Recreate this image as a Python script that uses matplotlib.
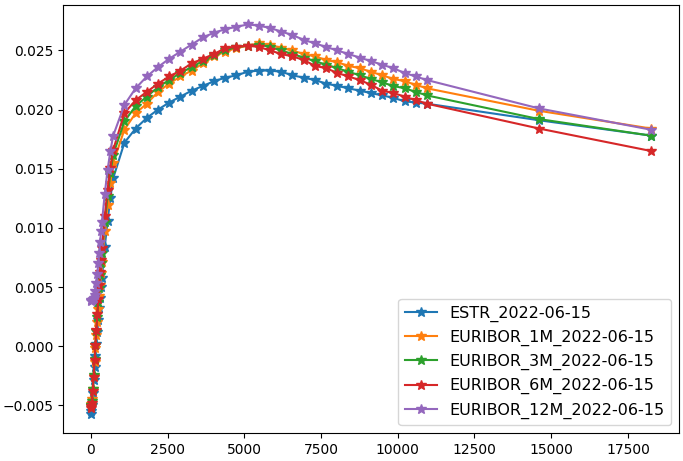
import numpy as np
import matplotlib
matplotlib.use("Agg")
import matplotlib.pyplot as plt

# tenors in days: short end (1W .. 2Y) then yearly 3Y..30Y, 40Y, 50Y
short_days = [7, 14, 30, 61, 91, 122, 152, 182, 213, 243, 274, 304, 335, 365, 456, 547, 638, 730]
year_days = [365 * y for y in list(range(3, 31)) + [40, 50]]
days = short_days + year_days

labels = ["ESTR_2022-06-15", "EURIBOR_1M_2022-06-15", "EURIBOR_3M_2022-06-15",
          "EURIBOR_6M_2022-06-15", "EURIBOR_12M_2022-06-15"]

estr = [-0.0057, -0.0055, -0.0050, -0.0040, -0.0029, -0.0018, -0.0008, 0.0002, 0.0012,
        0.0022, 0.0032, 0.0041, 0.0050, 0.0058, 0.0084, 0.0106, 0.0125, 0.0142,
        0.0172, 0.0184, 0.0193, 0.0200, 0.0206, 0.0211, 0.0216, 0.0220, 0.0224, 0.0227,
        0.0229, 0.0232, 0.0233, 0.0233, 0.0232, 0.0229, 0.0227, 0.0225, 0.0222, 0.0220,
        0.0218, 0.0216, 0.0214, 0.0212, 0.0210, 0.0207, 0.0206, 0.0205, 0.0191, 0.0178]

euribor_1m = [-0.0050, -0.0049, -0.0045, -0.0036, -0.0025, -0.0013, -0.0002, 0.0009, 0.0020,
              0.0031, 0.0042, 0.0052, 0.0062, 0.0071, 0.0097, 0.0119, 0.0138, 0.0155,
              0.0183, 0.0197, 0.0205, 0.0215, 0.0222, 0.0228, 0.0233, 0.0239, 0.0245, 0.0249,
              0.0252, 0.0254, 0.0256, 0.0255, 0.0252, 0.0250, 0.0247, 0.0245, 0.0242, 0.0240,
              0.0237, 0.0235, 0.0232, 0.0229, 0.0226, 0.0224, 0.0221, 0.0218, 0.0199, 0.0184]

euribor_3m = [-0.0051, -0.0050, -0.0046, -0.0036, -0.0024, -0.0011, 0.0001, 0.0013, 0.0025,
              0.0037, 0.0049, 0.0060, 0.0070, 0.0079, 0.0105, 0.0127, 0.0146, 0.0162,
              0.0190, 0.0203, 0.0211, 0.0219, 0.0225, 0.0231, 0.0236, 0.0241, 0.0246, 0.0250,
              0.0253, 0.0254, 0.0255, 0.0253, 0.0250, 0.0247, 0.0244, 0.0241, 0.0238, 0.0235,
              0.0232, 0.0229, 0.0226, 0.0223, 0.0220, 0.0218, 0.0215, 0.0212, 0.0192, 0.0178]

euribor_6m = [-0.0052, -0.0051, -0.0048, -0.0038, -0.0026, -0.0012, 0.0001, 0.0014, 0.0027,
              0.0040, 0.0052, 0.0063, 0.0073, 0.0083, 0.0110, 0.0132, 0.0151, 0.0166,
              0.0197, 0.0208, 0.0215, 0.0222, 0.0228, 0.0233, 0.0239, 0.0243, 0.0247, 0.0252,
              0.0253, 0.0254, 0.0253, 0.0250, 0.0247, 0.0245, 0.0242, 0.0237, 0.0235, 0.0231,
              0.0228, 0.0225, 0.0221, 0.0216, 0.0214, 0.0211, 0.0208, 0.0205, 0.0184, 0.0165]

euribor_12m = [0.0038, 0.0039, 0.0039, 0.0040, 0.0041, 0.0043, 0.0047, 0.0053, 0.0061,
               0.0070, 0.0079, 0.0088, 0.0097, 0.0105, 0.0129, 0.0149, 0.0165, 0.0178,
               0.0204, 0.0218, 0.0228, 0.0236, 0.0243, 0.0249, 0.0255, 0.0261, 0.0265, 0.0268,
               0.0270, 0.0272, 0.0271, 0.0269, 0.0266, 0.0263, 0.0259, 0.0256, 0.0253, 0.0250,
               0.0247, 0.0244, 0.0241, 0.0238, 0.0235, 0.0231, 0.0228, 0.0225, 0.0201, 0.0183]

curves = [estr, euribor_1m, euribor_3m, euribor_6m, euribor_12m]

fig = plt.figure(figsize=(6.83, 4.61), dpi=100)
ax = fig.add_axes([63 / 683, 28 / 461, 616 / 683, 428 / 461])

for rates, name in zip(curves, labels):
    ax.plot(days, rates, marker='*', markersize=7.5, label=name)

ax.legend(loc='lower right', fontsize=11.5)
fig.savefig("out.png", dpi=100)
